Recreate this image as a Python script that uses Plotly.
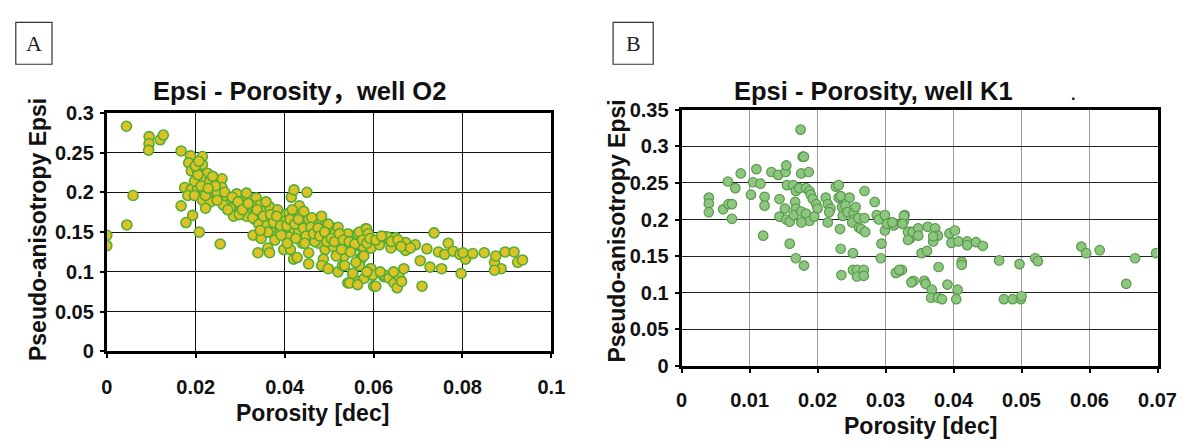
import plotly.graph_objects as go

# ---------------- Data: panel A (well O2) ----------------
a_x = [0.0044, 0.0095, 0.0095, 0.0094, 0.012, 0.0127, 0.0059, 0.0045, 0.0, 0.0,
       0.0167, 0.0188, 0.0184, 0.019, 0.0204, 0.0215, 0.0226, 0.0233, 0.0259, 0.0175,
       0.019, 0.0204, 0.0182, 0.0197, 0.0219, 0.0215, 0.0233, 0.024, 0.0255, 0.0259,
       0.0167, 0.0193, 0.0178, 0.0208, 0.0255, 0.027, 0.0278, 0.0292, 0.0288, 0.0307,
       0.0314, 0.031, 0.0322, 0.0336, 0.0344, 0.0333, 0.0351, 0.0366, 0.0355, 0.0329,
       0.0347, 0.034, 0.0362, 0.0366, 0.0377, 0.038, 0.0395, 0.041, 0.0415, 0.0421,
       0.045, 0.0433, 0.0398, 0.0417, 0.041, 0.0398, 0.0413, 0.042, 0.0428, 0.0439,
       0.0446, 0.0432, 0.0454, 0.0468, 0.0457, 0.0454, 0.0454, 0.0472, 0.0483, 0.0487,
       0.0476, 0.0491, 0.0487, 0.0483, 0.0498, 0.0505, 0.0513, 0.0498, 0.052, 0.053,
       0.052, 0.0527, 0.0538, 0.0553, 0.0564, 0.0582, 0.0571, 0.0593, 0.0571, 0.0567,
       0.0553, 0.0542, 0.0564, 0.0579, 0.0593, 0.0597, 0.06, 0.0623, 0.0626, 0.0615,
       0.0248, 0.0278, 0.03, 0.0285, 0.0314, 0.0336, 0.037, 0.0384, 0.0402, 0.0424,
       0.0443, 0.0461, 0.0483, 0.0498, 0.037, 0.0355, 0.0388, 0.0406, 0.0439, 0.0468,
       0.0509, 0.0534, 0.0516, 0.0542, 0.0556, 0.0226, 0.0211, 0.0197, 0.0244, 0.0233,
       0.0222, 0.0262, 0.0303, 0.0325, 0.0358, 0.0384, 0.0417,
       0.0568, 0.0584, 0.0588, 0.0576, 0.0594, 0.0613, 0.0631, 0.065, 0.0639, 0.0672,
       0.0672, 0.0694, 0.072, 0.0736, 0.0746, 0.076, 0.0768, 0.0779, 0.0794, 0.0807,
       0.0801, 0.0823, 0.0849, 0.0872, 0.0875, 0.0887, 0.0872, 0.0896, 0.0916, 0.0924,
       0.0935, 0.0535, 0.0553, 0.0546, 0.0564, 0.0572, 0.0568, 0.0594, 0.0598, 0.0605,
       0.0624, 0.0635, 0.0646, 0.0653, 0.0657, 0.0668, 0.0705, 0.0709, 0.0727, 0.0753,
       0.0797,
       0.0205, 0.0212, 0.0222, 0.0238, 0.0228, 0.0248, 0.0265, 0.0272, 0.0282, 0.0295,
       0.0298, 0.0215, 0.0199, 0.0207,
       0.0305, 0.0318, 0.0328, 0.0338, 0.0342, 0.0352, 0.036, 0.0368, 0.0375, 0.0382,
       0.0391, 0.0378, 0.0362, 0.0345, 0.0392,
       0.0405, 0.0412, 0.0423, 0.0431, 0.0442, 0.0448, 0.0459, 0.0465, 0.0475, 0.0479,
       0.049, 0.0495, 0.0445, 0.0425,
       0.0505, 0.0512, 0.0523, 0.0532, 0.0545, 0.0558, 0.0575, 0.0585, 0.0592, 0.0528,
       0.0548, 0.056, 0.0585, 0.0578,
       0.0605, 0.0618, 0.064, 0.0655, 0.0662, 0.0683, 0.0615, 0.0645, 0.0663]
a_y = [0.283, 0.270, 0.261, 0.253, 0.266, 0.272, 0.196, 0.159, 0.146, 0.133,
       0.252, 0.246, 0.237, 0.227, 0.227, 0.235, 0.224, 0.215, 0.217, 0.206,
       0.204, 0.204, 0.196, 0.196, 0.200, 0.190, 0.198, 0.192, 0.196, 0.206,
       0.183, 0.171, 0.162, 0.150, 0.135, 0.192, 0.186, 0.198, 0.184, 0.190,
       0.199, 0.182, 0.176, 0.193, 0.184, 0.166, 0.176, 0.182, 0.166, 0.146,
       0.142, 0.124, 0.130, 0.124, 0.154, 0.166, 0.172, 0.174, 0.194, 0.203,
       0.200, 0.183, 0.156, 0.152, 0.144, 0.128, 0.128, 0.116, 0.118, 0.162,
       0.152, 0.152, 0.166, 0.160, 0.144, 0.124, 0.110, 0.148, 0.166, 0.156,
       0.136, 0.128, 0.116, 0.108, 0.144, 0.156, 0.148, 0.104, 0.100, 0.108,
       0.156, 0.144, 0.136, 0.142, 0.148, 0.154, 0.132, 0.130, 0.118, 0.108,
       0.098, 0.086, 0.088, 0.092, 0.104, 0.096, 0.082, 0.094, 0.144, 0.136,
       0.200, 0.180, 0.176, 0.170, 0.170, 0.176, 0.166, 0.160, 0.164, 0.170,
       0.176, 0.168, 0.170, 0.160, 0.150, 0.156, 0.148, 0.136, 0.136, 0.138,
       0.132, 0.120, 0.120, 0.148, 0.132, 0.212, 0.218, 0.214, 0.208, 0.188,
       0.180, 0.184, 0.184, 0.184, 0.188, 0.178, 0.178,
       0.150, 0.154, 0.148, 0.132, 0.130, 0.134, 0.144, 0.143, 0.130, 0.137,
       0.127, 0.134, 0.129, 0.149, 0.125, 0.122, 0.136, 0.126, 0.122, 0.116,
       0.124, 0.123, 0.124, 0.112, 0.120, 0.104, 0.102, 0.125, 0.125, 0.112,
       0.115, 0.108, 0.098, 0.086, 0.084, 0.116, 0.108, 0.104, 0.096, 0.082,
       0.096, 0.092, 0.086, 0.080, 0.094, 0.104, 0.114, 0.082, 0.106, 0.104,
       0.098,
       0.222, 0.208, 0.196, 0.220, 0.205, 0.190, 0.200, 0.178, 0.194, 0.188,
       0.172, 0.245, 0.233, 0.239,
       0.178, 0.186, 0.168, 0.178, 0.160, 0.170, 0.158, 0.172, 0.162, 0.170,
       0.158, 0.140, 0.150, 0.152, 0.146,
       0.158, 0.166, 0.160, 0.166, 0.155, 0.145, 0.156, 0.148, 0.155, 0.145,
       0.150, 0.138, 0.136, 0.142,
       0.142, 0.138, 0.148, 0.140, 0.138, 0.135, 0.140, 0.136, 0.142, 0.128,
       0.125, 0.112, 0.100, 0.120,
       0.140, 0.145, 0.138, 0.140, 0.132, 0.130, 0.100, 0.100, 0.088]

# ---------------- Data: panel B (well K1) ----------------
b_x = [0.004, 0.004, 0.004, 0.0061, 0.0068, 0.0079, 0.0069, 0.0074, 0.0074, 0.0087,
       0.0102, 0.0105, 0.0116, 0.011, 0.0122, 0.0122, 0.012, 0.0132, 0.0142, 0.0153,
       0.0154, 0.0144, 0.0144, 0.0152, 0.0154, 0.0159, 0.0155, 0.0164, 0.0168, 0.0167,
       0.0168, 0.0165, 0.0175, 0.0178, 0.018, 0.0176, 0.0187, 0.0173, 0.0183, 0.0188,
       0.019, 0.0176, 0.0183, 0.0188, 0.0176, 0.0159, 0.0168, 0.018, 0.0193, 0.0198,
       0.02, 0.0195, 0.0212, 0.0215, 0.0215, 0.0219, 0.0217, 0.0227, 0.0231, 0.0231,
       0.0234, 0.0236, 0.0237, 0.0233, 0.0247, 0.0241, 0.0244, 0.0253, 0.0256, 0.0253,
       0.0251, 0.026, 0.0261, 0.0264, 0.0269, 0.0269, 0.027, 0.0234, 0.0252, 0.0235,
       0.0252, 0.0258, 0.0258, 0.0268, 0.0268, 0.0284, 0.0287, 0.029, 0.0299, 0.0299,
       0.0294, 0.0293, 0.0309, 0.0314, 0.0319, 0.0324, 0.0328, 0.0327, 0.0336, 0.0337,
       0.0341, 0.0302, 0.0312, 0.031, 0.0327, 0.0325, 0.0333, 0.0333, 0.034, 0.0348,
       0.0348, 0.0362, 0.0373, 0.0377, 0.037, 0.037, 0.0353, 0.0361, 0.0315, 0.032,
       0.0338, 0.0357, 0.0359, 0.0368, 0.0367, 0.0377, 0.0383, 0.0378, 0.0391, 0.0394,
       0.0402, 0.0397, 0.0407, 0.042, 0.042, 0.0433, 0.0443, 0.0412, 0.0412, 0.0406,
       0.0404, 0.0467, 0.0497, 0.0474, 0.0487, 0.0499, 0.05, 0.052, 0.0524, 0.0588,
       0.0595, 0.0615, 0.0654, 0.0667, 0.0698]
b_y = [0.230, 0.222, 0.210, 0.214, 0.252, 0.243, 0.221, 0.221, 0.201, 0.263,
       0.234, 0.251, 0.249, 0.269, 0.231, 0.219, 0.178, 0.265, 0.261, 0.265,
       0.274, 0.228, 0.204, 0.215, 0.200, 0.197, 0.247, 0.247, 0.239, 0.224,
       0.215, 0.206, 0.323, 0.286, 0.286, 0.263, 0.265, 0.243, 0.243, 0.239,
       0.234, 0.211, 0.208, 0.198, 0.196, 0.167, 0.147, 0.137, 0.228, 0.221,
       0.215, 0.204, 0.230, 0.221, 0.196, 0.215, 0.210, 0.245, 0.247, 0.230,
       0.232, 0.217, 0.205, 0.187, 0.230, 0.219, 0.210, 0.209, 0.217, 0.200,
       0.196, 0.202, 0.189, 0.187, 0.239, 0.202, 0.183, 0.160, 0.154, 0.124,
       0.131, 0.131, 0.122, 0.131, 0.123, 0.224, 0.206, 0.200, 0.206, 0.185,
       0.167, 0.147, 0.196, 0.194, 0.129, 0.131, 0.206, 0.198, 0.174, 0.183,
       0.116, 0.194, 0.192, 0.196, 0.205, 0.194, 0.183, 0.172, 0.183, 0.188,
       0.178, 0.190, 0.188, 0.178, 0.170, 0.177, 0.154, 0.157, 0.127, 0.131,
       0.114, 0.116, 0.112, 0.104, 0.093, 0.093, 0.091, 0.135, 0.111, 0.181,
       0.185, 0.168, 0.170, 0.170, 0.165, 0.169, 0.164, 0.142, 0.138, 0.104,
       0.091, 0.144, 0.139, 0.091, 0.091, 0.091, 0.095, 0.147, 0.143, 0.163,
       0.154, 0.158, 0.112, 0.147, 0.154]

# ---------------- Axes labels ----------------
a_xticks = [0, 0.02, 0.04, 0.06, 0.08, 0.1]
a_xtext = ["0", "0.02", "0.04", "0.06", "0.08", "0.1"]
a_yticks = [0, 0.05, 0.1, 0.15, 0.2, 0.25, 0.3]
a_ytext = ["0", "0.05", "0.1", "0.15", "0.2", "0.25", "0.3"]
b_xticks = [0, 0.01, 0.02, 0.03, 0.04, 0.05, 0.06, 0.07]
b_xtext = ["0", "0.01", "0.02", "0.03", "0.04", "0.05", "0.06", "0.07"]
b_yticks = [0, 0.05, 0.1, 0.15, 0.2, 0.25, 0.3, 0.35]
b_ytext = ["0", "0.05", "0.1", "0.15", "0.2", "0.25", "0.3", "0.35"]

W, H = 1200, 448
def px(x):
    return x / W
def py(y):
    return 1 - y / H

FONT = "Arial, 'Liberation Sans', 'Noto Sans CJK SC', sans-serif"
tickfont = dict(family=FONT, size=20, color="#111", weight="bold")

fig = go.Figure()
fig.add_trace(go.Scatter(x=a_x, y=a_y, mode="markers", xaxis="x", yaxis="y",
                         marker=dict(size=10, color="#dcc224",
                                     line=dict(color="#52ad35", width=1.6)),
                         showlegend=False))
fig.add_trace(go.Scatter(x=b_x, y=b_y, mode="markers", xaxis="x2", yaxis="y2",
                         marker=dict(size=9.5, color="#8dc67e",
                                     line=dict(color="#5a9a4e", width=1.2)),
                         showlegend=False))

common = dict(showline=True, mirror=True, linecolor="black", linewidth=3,
              ticks="outside", ticklen=4, tickwidth=2, tickcolor="black",
              tickfont=tickfont, zeroline=False, showgrid=True, fixedrange=True)

fig.update_layout(
    width=W, height=H,
    margin=dict(l=0, r=0, t=0, b=0),
    paper_bgcolor="white", plot_bgcolor="white",
    xaxis=dict(domain=[px(103), px(557)], range=[0, 0.1], tickvals=a_xticks,
               ticktext=a_xtext, gridcolor="#111", gridwidth=1.3, anchor="y",
               ticklabelstandoff=12, **common),
    yaxis=dict(domain=[py(358), py(107)], range=[0, 0.3], tickvals=a_yticks,
               ticktext=a_ytext, gridcolor="#111", gridwidth=1.3, anchor="x",
               ticklabelstandoff=2, **common),
    xaxis2=dict(domain=[px(690), px(1176)], range=[0, 0.07], tickvals=b_xticks,
                ticktext=b_xtext, gridcolor="#9a9a9a", gridwidth=1.2, anchor="y2",
                ticklabelstandoff=10, **common),
    yaxis2=dict(domain=[py(373), py(104)], range=[0, 0.35], tickvals=b_yticks,
                ticktext=b_ytext, gridcolor="#222", gridwidth=1.3, anchor="x2",
                ticklabelstandoff=2, **common),
)

ann = []
def add_text(text, x, y, size, angle=0, family=FONT, weight="bold", color="#111"):
    ann.append(dict(text=text, x=px(x), y=py(y), xref="paper", yref="paper",
                    showarrow=False, textangle=angle, xanchor="center", yanchor="middle",
                    font=dict(family=family, size=size, color=color, weight=weight)))

add_text("Epsi - Porosity，well O2", 300, 84, 25.5)
add_text("Epsi - Porosity, well K1", 886, 84, 25.5)
add_text("Pseudo-anisotropy Epsi", 32, 230, 23, angle=-90)
add_text("Pseudo-anisotropy Epsi", 624, 232, 23, angle=-90)
add_text("Porosity [dec]", 313, 423, 23)
add_text("Porosity [dec]", 934, 436, 23)
add_text("A", 28.5, 34, 22, family="'Liberation Serif', 'Times New Roman', serif", weight="normal", color="#222")
add_text("B", 640.5, 34, 22, family="'Liberation Serif', 'Times New Roman', serif", weight="normal", color="#222")
add_text(".", 1090, 88, 16)
fig.update_layout(annotations=ann)

shapes = []
for (x0, x1) in [(10, 47), (620, 661)]:
    shapes.append(dict(type="rect", xref="paper", yref="paper",
                       x0=px(x0), x1=px(x1), y0=py(56), y1=py(12),
                       line=dict(color="#333", width=1.2)))
fig.update_layout(shapes=shapes)

fig.write_html("out.html")
